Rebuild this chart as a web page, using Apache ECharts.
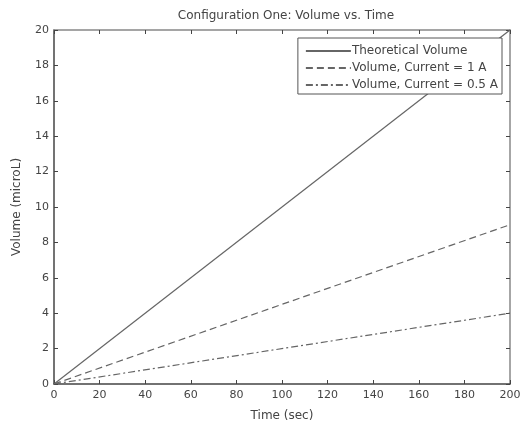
<!DOCTYPE html>
<html><head><meta charset="utf-8">
<script src="https://cdn.jsdelivr.net/npm/echarts@6/dist/echarts.min.js"></script>
<style>html,body{margin:0;padding:0;background:#fff}#c{width:524px;height:427px}</style>
</head><body><div id="c"></div>
<script>
const timeSec = [0, 200];
const theoretical = [0, 20];
const current1A = [0, 9];
const current05A = [0, 4];
const xTicks = [0,20,40,60,80,100,120,140,160,180,200];
const yTicks = [0,2,4,6,8,10,12,14,16,18,20];

const pair = (xs, ys) => xs.map((x, i) => [x, ys[i]]);
const font = 'DejaVu Sans, Verdana, sans-serif';
const axisCol = '#444';
const grid = {left: 54, right: 14, top: 30, bottom: 39};

const chart = echarts.init(document.getElementById('c'), null, {renderer: 'canvas'});
chart.setOption({
  backgroundColor: '#fff',
  animation: false,
  title: {text: 'Configuration One: Volume vs. Time', left: 281, top: 4, textAlign: 'center',
    textStyle: {fontFamily: font, fontSize: 12, fontWeight: 'normal', color: '#444', lineHeight: 14}},
  grid: grid,
  legend: {
    right: 22, top: 38, orient: 'vertical', itemGap: 5, itemWidth: 45, itemHeight: 14,
    padding: [7, 4, 3, 7], borderColor: '#555', borderWidth: 1, backgroundColor: '#fff',
    itemStyle: {opacity: 0},
    textStyle: {fontFamily: font, fontSize: 12, color: '#444', padding: [0, 0, 0, -4]},
    data: ['Theoretical Volume', 'Volume, Current = 1 A', 'Volume, Current = 0.5 A']
  },
  xAxis: [{
    type: 'value', min: 0, max: 200, interval: 20,
    name: 'Time (sec)', nameLocation: 'middle', nameGap: 26,
    nameTextStyle: {fontFamily: font, fontSize: 12, color: '#444'},
    axisLine: {show: true, onZero: false, lineStyle: {color: axisCol, width: 1.5}},
    axisTick: {show: true, inside: true, length: 4, lineStyle: {color: axisCol}},
    axisLabel: {fontFamily: font, fontSize: 11, color: '#444', margin: 6,
      formatter: v => xTicks.includes(v) ? String(v) : ''},
    splitLine: {show: false}
  }, {
    type: 'value', position: 'top', min: 0, max: 200, interval: 20,
    axisLine: {show: true, onZero: false, lineStyle: {color: '#888', width: 1.5}},
    axisTick: {show: true, inside: true, length: 4, lineStyle: {color: axisCol}},
    axisLabel: {show: false}, splitLine: {show: false}
  }],
  yAxis: [{
    type: 'value', min: 0, max: 20, interval: 2,
    name: 'Volume (microL)', nameLocation: 'middle', nameGap: 31,
    nameTextStyle: {fontFamily: font, fontSize: 12, color: '#444'},
    axisLine: {show: true, onZero: false, lineStyle: {color: axisCol, width: 1.5}},
    axisTick: {show: true, inside: true, length: 4, lineStyle: {color: axisCol}},
    axisLabel: {fontFamily: font, fontSize: 11, color: '#444', margin: 5,
      formatter: v => yTicks.includes(v) ? String(v) : ''},
    splitLine: {show: false}
  }, {
    type: 'value', position: 'right', min: 0, max: 20, interval: 2,
    axisLine: {show: true, onZero: false, lineStyle: {color: '#888', width: 1.5}},
    axisTick: {show: true, inside: true, length: 4, lineStyle: {color: axisCol}},
    axisLabel: {show: false}, splitLine: {show: false}
  }],
  series: [
    {name: 'Theoretical Volume', type: 'line', symbol: 'none', data: pair(timeSec, theoretical),
     itemStyle: {color: '#666'}, lineStyle: {color: '#666', width: 1.2, type: 'solid'}},
    {name: 'Volume, Current = 1 A', type: 'line', symbol: 'none', data: pair(timeSec, current1A),
     itemStyle: {color: '#666'}, lineStyle: {color: '#666', width: 1.2, type: [7, 4]}},
    {name: 'Volume, Current = 0.5 A', type: 'line', symbol: 'none', data: pair(timeSec, current05A),
     itemStyle: {color: '#666'}, lineStyle: {color: '#666', width: 1.2, type: [7, 3, 2, 3]}}
  ]
});
</script></body></html>
